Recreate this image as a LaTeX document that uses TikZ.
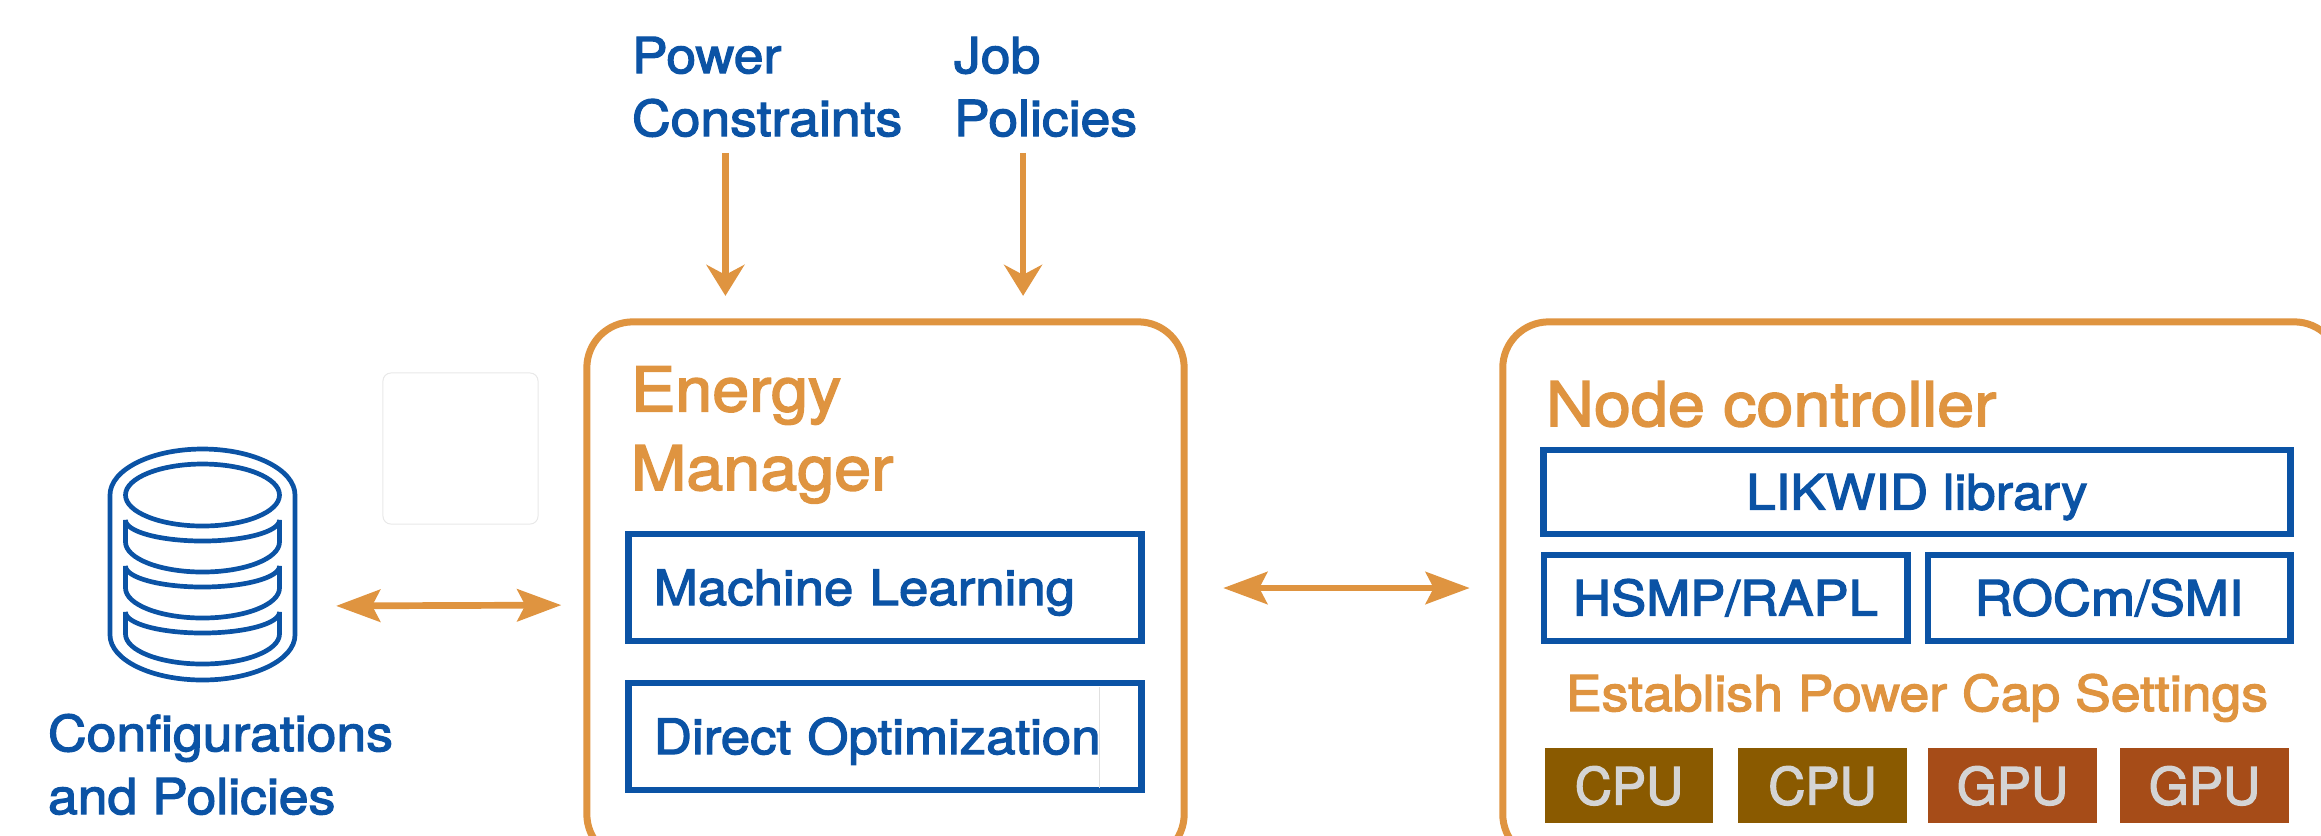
\documentclass[tikz,border=0pt]{standalone}
\usepackage{fontspec}
\setmainfont[FakeStretch=1.08, FakeBold=2.5]{TeX Gyre Heros}
\newfontfamily\chipfont[FakeBold=2.5]{TeX Gyre Heros}
\usetikzlibrary{arrows.meta}
\definecolor{mgrblue}{HTML}{0B53A5}
\definecolor{mgrorange}{HTML}{DF9440}
\definecolor{cpubrown}{HTML}{8A5A00}
\definecolor{gpurust}{HTML}{A64C18}
\definecolor{chiptext}{HTML}{D4D4D4}
\tikzstyle{every node}=[inner sep=0pt, outer sep=0pt]
\tikzstyle{ctrlbox}=[draw=mgrorange, line width=0.07cm, rounded corners=0.46cm]
\tikzstyle{bluebox}=[draw=mgrblue, line width=0.068cm, text=mgrblue, text height=0.35cm, text depth=0pt, font=\fontsize{13.9}{17.9}\selectfont]
\tikzstyle{chip}=[minimum width=1.68cm, minimum height=0.75cm, text=chiptext, text height=0.38cm, text depth=0pt, font=\fontsize{14.6}{17}\chipfont]
\tikzstyle{bluelabel}=[anchor=base west, align=left, text=mgrblue, font=\fontsize{14.1}{17.9}\selectfont]
\tikzstyle{title}=[anchor=base west, align=left, text=mgrorange, font=\fontsize{17.5}{22.4}\selectfont]
\tikzstyle{dbline}=[draw=mgrblue, line width=0.047cm]
\tikzstyle{inarrow}=[draw=mgrorange, line width=0.067cm, -{Stealth[length=0.31cm, width=0.38cm, inset=0.1cm]}]
\tikzstyle{biarrow}=[draw=mgrorange, line width=0.067cm, {Stealth[length=0.44cm, width=0.32cm, inset=0.08cm]}-{Stealth[length=0.44cm, width=0.32cm, inset=0.08cm]}]

\begin{document}
\begin{tikzpicture}[x=0.01cm, y=-0.01cm]
\path[use as bounding box, clip] (0,0) rectangle (2321,835);
% Database
    \node[minimum width=1.85cm, minimum height=2.31cm] (db) at (202.5,564.5) {};
    \draw[dbline] (110,495) arc[start angle=180, end angle=360, x radius=92.5, y radius=46]
        -- (295,635) arc[start angle=0, end angle=180, x radius=92.5, y radius=45] -- cycle;
    \draw[dbline] (202.5,495) ellipse[x radius=77, y radius=31];
    \draw[dbline] (125.5,520) arc[start angle=180, end angle=0, x radius=77, y radius=21]
        -- (279.5,542) arc[start angle=0, end angle=180, x radius=77, y radius=30] -- cycle;
    \draw[dbline] (125.5,566) arc[start angle=180, end angle=0, x radius=77, y radius=21]
        -- (279.5,588) arc[start angle=0, end angle=180, x radius=77, y radius=30] -- cycle;
    \draw[dbline] (125.5,612) arc[start angle=180, end angle=0, x radius=77, y radius=21]
        -- (279.5,634) arc[start angle=0, end angle=180, x radius=77, y radius=30] -- cycle;
    \node[bluelabel] (cfg) at (48,814) {Configurations\\and Policies};
% Faint leftovers
    \node[draw=black!9, line width=0.01cm, rounded corners=0.08cm, minimum width=1.55cm, minimum height=1.51cm] (ghost) at (460.5,448.5) {};
% Energy manager
    \node[ctrlbox, minimum width=5.97cm, minimum height=5.38cm] (emgr) at (885.5,591) {};
    \node[title] (emgrtitle) at (631,490) {Energy\\Manager};
    \node[bluebox, minimum width=5.12cm, minimum height=1.07cm, text width=4.62cm, align=left] (ml) at (885,587.5) {Machine Learning};
    \node[bluebox, minimum width=5.12cm, minimum height=1.07cm, text width=4.62cm, align=left] (opt) at (885,736.5) {Direct Optimization};
    \draw[black!12, line width=0.01cm] (1099,687) -- (1099,788);
% Node controller
    \node[ctrlbox, minimum width=8.37cm, minimum height=5.38cm] (ctrl) at (1921.5,591) {};
    \node[title] (ctrltitle) at (1546,426) {Node controller};
    \node[bluebox, minimum width=7.46cm, minimum height=0.84cm] (likwid) at (1917,492) {LIKWID library};
    \node[bluebox, minimum width=3.63cm, minimum height=0.86cm] (hsmp) at (1725.5,598) {HSMP/RAPL};
    \node[bluebox, minimum width=3.62cm, minimum height=0.86cm] (rocm) at (2109,598) {ROCm/SMI};
    \node[anchor=base, text=mgrorange, font=\fontsize{14.1}{17.9}\selectfont] (cap) at (1917,711) {Establish Power Cap Settings};
    \node[chip, fill=cpubrown] (cpua) at (1629,785.5) {CPU};
    \node[chip, fill=cpubrown] (cpub) at (1822.5,785.5) {CPU};
    \node[chip, fill=gpurust] (gpua) at (2012.5,785.5) {GPU};
    \node[chip, fill=gpurust] (gpub) at (2204.5,785.5) {GPU};
% Inputs
    \node[bluelabel] (pwr) at (632,136) {Power\\Constraints};
    \node[bluelabel] (job) at (954,136) {Job\\Policies};
% Arrows
    \draw[inarrow, shorten <=0.16cm, shorten >=0.26cm] ([xshift=-1.6cm]emgr.north |- pwr.south) -- ([xshift=-1.6cm]emgr.north);
    \draw[inarrow, shorten <=0.16cm, shorten >=0.26cm] ([xshift=1.375cm]emgr.north |- job.south) -- ([xshift=1.375cm]emgr.north);
    \draw[biarrow, shorten <=0.41cm, shorten >=0.255cm] ([yshift=-0.415cm]db.east) -- ([yshift=-0.14cm]emgr.west);
    \draw[biarrow, shorten <=0.39cm, shorten >=0.33cm] ([yshift=0.03cm]emgr.east) -- ([yshift=0.03cm]ctrl.west);
\end{tikzpicture}
\end{document}
